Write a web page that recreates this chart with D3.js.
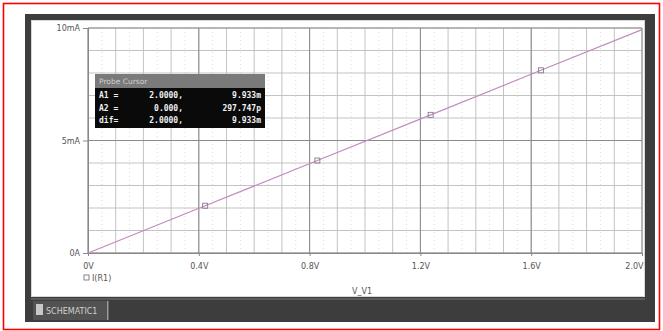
<!DOCTYPE html>
<html><head><meta charset="utf-8">
<script src="https://cdn.jsdelivr.net/npm/d3@7"></script>
<style>body{margin:0;background:#fff}svg{display:block}</style>
</head><body>
<svg id="c" width="663" height="331"></svg>
<script>
// data
const voltages = [0, 0.423, 0.828, 1.237, 1.635, 2.0];      // V_V1 (V)
const currents = [0.0000000003, 0.00210, 0.00411, 0.00614, 0.00812, 0.00993]; // I(R1) (A)
const markerV = [0.423, 0.828, 1.237, 1.635];
const markerI = [0.00210, 0.00411, 0.00614, 0.00812];
const xTicks = [0, 0.4, 0.8, 1.2, 1.6, 2.0];
const xTickLabels = ["0V", "0.4V", "0.8V", "1.2V", "1.6V", "2.0V"];
const yTicks = [0, 0.005, 0.010];
const yTickLabels = ["0A", "5mA", "10mA"];
const cursorRows = [["A1 =", "2.0000,", "9.933m"], ["A2 =", "0.000,", "297.747p"], ["dif=", "2.0000,", "9.933m"]];

const svg = d3.select("#c");
// red outer border
svg.append("rect").attr("x",3.5).attr("y",3.5).attr("width",656).attr("height",326)
  .attr("fill","none").attr("stroke","#ff0000").attr("stroke-width",1.6);
// window frame
svg.append("rect").attr("x",25).attr("y",14).attr("width",630).attr("height",308).attr("fill","#3d3d3d");
svg.append("rect").attr("x",31).attr("y",20).attr("width",614).attr("height",277).attr("fill","#d8d8d8");
svg.append("rect").attr("x",32).attr("y",21).attr("width",612).attr("height",275).attr("fill","#ffffff");
// bottom bar
svg.append("rect").attr("x",31).attr("y",298).attr("width",614).attr("height",2).attr("fill","#5a5a5a");
svg.append("rect").attr("x",33).attr("y",301).attr("width",74).attr("height",19).attr("fill","#525252");
svg.append("rect").attr("x",107).attr("y",301).attr("width",1.5).attr("height",19).attr("fill","#9a9a9a");
svg.append("rect").attr("x",36).attr("y",304).attr("width",7).attr("height",11).attr("fill","#c8c8c8");
svg.append("text").attr("x",46).attr("y",314).attr("font-family","DejaVu Sans").attr("font-size",8)
  .attr("fill","#d0d0d0").text("SCHEMATIC1");

const L = 88, R = 642, T = 28, B = 253;
const x = d3.scaleLinear().domain([0, 2.0]).range([L, R]);
const y = d3.scaleLinear().domain([0, 0.010]).range([B, T]);

// grid
const g = svg.append("g");
const minorX = d3.range(0, 2.0001, 0.1);
const minorY = d3.range(0, 0.01001, 0.001);
const subX = d3.range(0.05, 2.0, 0.1);
g.selectAll(".sx").data(subX).join("line").attr("x1",d=>x(d)).attr("x2",d=>x(d)).attr("y1",T).attr("y2",B)
  .attr("stroke","#d4d4d4").attr("stroke-width",0.8).attr("stroke-dasharray","1,3");
g.selectAll(".mx").data(minorX).join("line").attr("x1",d=>x(d)).attr("x2",d=>x(d)).attr("y1",T).attr("y2",B)
  .attr("stroke","#bcbcbc").attr("stroke-width",0.9);
g.selectAll(".my").data(minorY).join("line").attr("y1",d=>y(d)).attr("y2",d=>y(d)).attr("x1",L).attr("x2",R)
  .attr("stroke","#bcbcbc").attr("stroke-width",0.9);
g.selectAll(".Mx").data(xTicks).join("line").attr("x1",d=>x(d)).attr("x2",d=>x(d)).attr("y1",T).attr("y2",B)
  .attr("stroke","#8a8a8a").attr("stroke-width",1);
g.selectAll(".My").data(yTicks).join("line").attr("y1",d=>y(d)).attr("y2",d=>y(d)).attr("x1",L).attr("x2",R)
  .attr("stroke","#8a8a8a").attr("stroke-width",1);

// axes
const xAxis = d3.axisBottom(x).tickValues(xTicks).tickFormat((d,i)=>xTickLabels[i]).tickSize(3).tickPadding(7);
const ax = svg.append("g").attr("transform",`translate(0,${B})`).call(xAxis);
ax.select(".domain").attr("stroke","#888");
ax.selectAll("line").attr("stroke","#888");
ax.selectAll("text").attr("font-family","DejaVu Sans").attr("font-size",8).attr("fill","#555");
ax.selectAll(".tick:last-of-type text").attr("text-anchor","end").attr("dx","1");
const yAxis = d3.axisLeft(y).tickValues(yTicks).tickFormat((d,i)=>yTickLabels[i]).tickSize(5).tickPadding(3);
const ay = svg.append("g").attr("transform",`translate(${L},0)`).call(yAxis);
ay.select(".domain").attr("stroke","#888");
ay.selectAll("line").attr("stroke","#888");
ay.selectAll("text").attr("font-family","DejaVu Sans").attr("font-size",8).attr("fill","#555");

// trace
svg.append("path").datum(voltages.map((v,i)=>[v,currents[i]]))
  .attr("d", d3.line().x(d=>x(d[0])).y(d=>y(d[1])))
  .attr("fill","none").attr("stroke","#c08cc0").attr("stroke-width",1.2);
svg.selectAll(".mk").data(markerV.map((v,i)=>[v,markerI[i]])).join("rect")
  .attr("x",d=>x(d[0])-2.5).attr("y",d=>y(d[1])-2.5).attr("width",5).attr("height",5)
  .attr("fill","none").attr("stroke","#8a7a8a").attr("stroke-width",0.9);

// legend & axis title
svg.append("rect").attr("x",84).attr("y",275).attr("width",5).attr("height",5)
  .attr("fill","none").attr("stroke","#777").attr("stroke-width",0.9);
svg.append("text").attr("x",92).attr("y",281).attr("font-family","DejaVu Sans").attr("font-size",8)
  .attr("fill","#555").text("I(R1)");
svg.append("text").attr("x",352).attr("y",294).attr("font-family","DejaVu Sans").attr("font-size",8)
  .attr("fill","#555").text("V_V1");

// probe cursor box
const bx = 95, by = 74;
svg.append("rect").attr("x",bx).attr("y",by).attr("width",170).attr("height",54).attr("fill","#0a0a0a");
svg.append("rect").attr("x",bx).attr("y",by).attr("width",170).attr("height",14).attr("fill","#7a7a7a");
svg.append("text").attr("x",bx+4).attr("y",by+10).attr("font-family","DejaVu Sans").attr("font-size",7.5)
  .attr("fill","#cfcfcf").text("Probe Cursor");
cursorRows.forEach((r,i)=>{
  const yy = by + 24 + i*12.5;
  svg.append("text").attr("x",bx+4).attr("y",yy).attr("font-family","DejaVu Sans Mono").attr("font-size",8)
    .attr("font-weight","bold").attr("fill","#f0f0f0").text(r[0]);
  svg.append("text").attr("x",bx+88).attr("y",yy).attr("text-anchor","end").attr("font-family","DejaVu Sans Mono")
    .attr("font-size",8).attr("font-weight","bold").attr("fill","#f0f0f0").text(r[1]);
  svg.append("text").attr("x",bx+166).attr("y",yy).attr("text-anchor","end").attr("font-family","DejaVu Sans Mono")
    .attr("font-size",8).attr("font-weight","bold").attr("fill","#f0f0f0").text(r[2]);
});
</script>
</body></html>
